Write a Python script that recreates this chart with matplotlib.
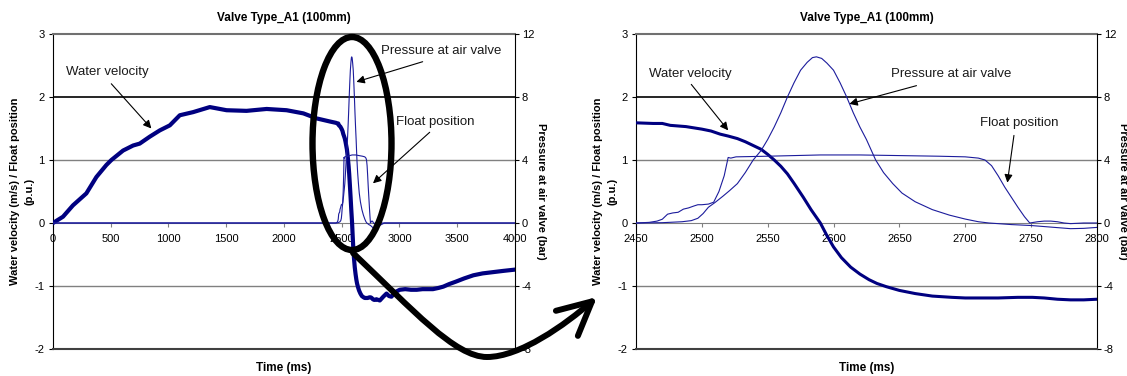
import matplotlib.pyplot as plt
from matplotlib.patches import Ellipse, FancyArrowPatch
from matplotlib.path import Path
from matplotlib.transforms import Affine2D

plt.rcParams['font.family'] = ['Liberation Sans', 'DejaVu Sans']
plt.rcParams['axes.unicode_minus'] = False

title = 'Valve Type_A1 (100mm)'

# water velocity (m/s)
vel_t = [0, 87, 173, 289, 376, 462, 506, 607, 694, 751, 838, 925, 1012, 1098, 1214,
         1358, 1503, 1676, 1850, 2023, 2168, 2283, 2400,
         2450, 2463, 2470, 2476, 2488, 2500, 2507, 2514, 2520, 2527, 2533, 2539, 2545,
         2550, 2555, 2560, 2565, 2570, 2577, 2583, 2590, 2595, 2600, 2606, 2613, 2620,
         2627, 2633, 2640, 2650, 2662, 2675, 2690, 2700, 2715, 2725, 2740, 2751, 2760,
         2770, 2780, 2790, 2800, 2830, 2860, 2888, 2910, 2931, 2960, 3003, 3050, 3100,
         3150, 3200, 3290, 3340, 3380, 3430, 3490, 3560, 3640, 3720, 3810, 3900, 4000]
vel = [0.0, 0.1, 0.28, 0.47, 0.73, 0.92, 1.0, 1.15, 1.23, 1.26, 1.37, 1.47, 1.55, 1.71, 1.76,
       1.84, 1.79, 1.78, 1.81, 1.79, 1.74, 1.66, 1.61,
       1.59, 1.58, 1.58, 1.55, 1.53, 1.49, 1.46, 1.41, 1.38, 1.34, 1.29, 1.23, 1.17,
       1.09, 1.0, 0.9, 0.78, 0.63, 0.41, 0.21, 0.0, -0.2, -0.38, -0.55, -0.70, -0.81,
       -0.9, -0.96, -1.01, -1.07, -1.12, -1.16, -1.18, -1.19, -1.19, -1.19, -1.18, -1.18, -1.19,
       -1.21, -1.22, -1.22, -1.21, -1.23, -1.17, -1.12, -1.16, -1.17, -1.1, -1.06, -1.05, -1.06,
       -1.06, -1.05, -1.05, -1.03, -1.01, -0.97, -0.93, -0.88, -0.83, -0.8, -0.78, -0.76, -0.74]

# float position (p.u.)
float_t = [0, 1000, 2000, 2450, 2460, 2466, 2470, 2474, 2478, 2482, 2486, 2490, 2494, 2497,
           2500, 2505, 2509, 2513, 2517, 2520, 2522, 2526, 2550, 2590, 2620, 2650, 2680,
           2700, 2710, 2715, 2720, 2725, 2730, 2735, 2740, 2745, 2749, 2755, 2760, 2765,
           2770, 2775, 2780, 2790, 2800, 3000, 3500, 4000]
float_pos = [0.0, 0.0, 0.0, 0.0, 0.01, 0.03, 0.06, 0.14, 0.16, 0.17, 0.22, 0.24, 0.27, 0.29,
             0.29, 0.30, 0.33, 0.5, 0.75, 1.04, 1.03, 1.05, 1.06, 1.08, 1.08, 1.07, 1.06,
             1.05, 1.03, 1.0, 0.91, 0.75, 0.57, 0.41, 0.25, 0.1, 0.0, 0.02, 0.03, 0.03,
             0.02, 0.0, -0.01, 0.0, 0.0, 0.0, 0.0, 0.0]

# pressure at air valve (bar)
pres_t = [0, 1000, 2000, 2450, 2470, 2485, 2492, 2497, 2501, 2505, 2510, 2516, 2521, 2527,
          2533, 2539, 2545, 2550, 2555, 2560, 2565, 2570, 2575, 2580, 2584, 2587, 2591,
          2595, 2600, 2605, 2610, 2615, 2620, 2625, 2632, 2638, 2645, 2652, 2662, 2675,
          2688, 2700, 2710, 2718, 2735, 2750, 2765, 2780, 2790, 2800, 2830, 2870, 3500, 4000]
pres = [0.0, 0.0, 0.0, 0.0, 0.02, 0.08, 0.15, 0.3, 0.6, 1.0, 1.3, 1.7, 2.05, 2.5,
        3.2, 4.0, 4.6, 5.3, 6.1, 7.0, 8.0, 8.9, 9.7, 10.2, 10.5, 10.55, 10.45,
        10.15, 9.7, 8.9, 8.0, 7.0, 6.1, 5.3, 4.0, 3.2, 2.5, 1.9, 1.35, 0.85,
        0.5, 0.25, 0.08, 0.0, -0.1, -0.16, -0.26, -0.36, -0.34, -0.28, -0.15, 0.0, 0.0, 0.0]

full_ticks = [0, 500, 1000, 1500, 2000, 2500, 3000, 3500, 4000]
zoom_ticks = [2450, 2500, 2550, 2600, 2650, 2700, 2750, 2800]
left_ticks = [-2, -1, 0, 1, 2, 3]
right_ticks = [-8, -4, 0, 4, 8, 12]

navy = '#000080'
blue = '#1c1c9c'


def note(ax, text, pos, tail, tip):
    ax.text(pos[0], pos[1], text, fontsize=9.5, ha='left', va='center', color='#1a1a1a')
    ax.annotate('', xy=tip, xytext=tail,
                arrowprops=dict(arrowstyle='-|>', color='black', lw=0.8,
                                mutation_scale=12, shrinkA=0, shrinkB=0))


def panel(rect, xlim, xticks, vel_lw, notes):
    ax = fig.add_axes(rect)
    ax.set_xlim(xlim)
    ax.set_ylim(-2, 3)
    ax.set_xticks(xticks)
    ax.set_yticks(left_ticks)

    for y, c, w in [(1, '#808080', 1.0), (-1, '#808080', 1.0), (2, 'black', 1.2)]:
        ax.axhline(y, color=c, lw=w, zorder=0.5)

    ax.plot(vel_t, vel, color=navy, lw=vel_lw, zorder=3)
    ax.plot(float_t, float_pos, color=blue, lw=0.8, zorder=3)

    ax.spines['bottom'].set_position(('data', 0))
    ax.spines['bottom'].set_color('#808080')
    ax.spines['top'].set_color('#707070')
    ax.spines['top'].set_linewidth(1.5)
    ax.spines['right'].set_visible(False)
    ax.spines['left'].set_color('black')

    ax.tick_params(axis='x', direction='out', length=3, pad=5, labelsize=8, color='#808080')
    ax.tick_params(axis='y', direction='out', length=3, pad=3, labelsize=8)

    ax.set_title(title, fontsize=8.5, fontweight='bold', pad=9)
    ax.set_xlabel('Time (ms)', fontsize=8.5, fontweight='bold')
    ax.xaxis.set_label_coords(0.5, -0.04)
    ax.set_ylabel('Water velocity (m/s) / Float position\n(p.u.)', fontsize=8,
                  fontweight='bold', linespacing=1.5, va='center', ha='center')
    ax.yaxis.set_label_coords(-0.067, 0.5)

    ax2 = ax.twinx()
    ax2.set_ylim(-8, 12)
    ax2.set_yticks(right_ticks)
    ax2.plot(pres_t, pres, color=blue, lw=0.8)
    ax2.spines['left'].set_visible(False)
    ax2.spines['top'].set_visible(False)
    ax2.spines['bottom'].set_color('#404040')
    ax2.spines['bottom'].set_linewidth(1.5)
    ax2.spines['right'].set_color('black')
    ax2.tick_params(axis='y', direction='out', length=3, pad=2, labelsize=8)
    ax2.set_ylabel('Pressure at air valve (bar)', fontsize=8, fontweight='bold',
                   rotation=270, va='center', ha='center')
    ax2.yaxis.set_label_coords(1.056, 0.5)

    for n in notes:
        note(ax, *n)
    return ax


fig = plt.figure(figsize=(11.27, 3.76), dpi=100)

panel([0.0470, 0.0718, 0.4099, 0.8378], (0, 4000), full_ticks, 3.0, [
    ('Water velocity', (115, 2.39), (505, 2.21), (852, 1.5)),
    ('Pressure at air valve', (2837, 2.73), (3201, 2.56), (2627, 2.24)),
    ('Float position', (2973, 1.6), (3262, 1.44), (2771, 0.63)),
])
panel([0.5643, 0.0718, 0.4090, 0.8378], (2450, 2800), zoom_ticks, 2.2, [
    ('Water velocity', (2460, 2.37), (2492, 2.2), (2520, 1.47)),
    ('Pressure at air valve', (2644, 2.37), (2663, 2.18), (2612, 1.89)),
    ('Float position', (2711, 1.59), (2737, 1.39), (2732, 0.64)),
])

# hand-drawn zoom marker, in figure pixels from the top-left corner
px = Affine2D().scale(1 / 1127, -1 / 376).translate(0, 1) + fig.transFigure
fig.add_artist(Ellipse((352, 143.5), 79, 213, transform=px, fill=False,
                       edgecolor='black', lw=4.6))
curve = Path([(353, 253), (413, 310), (455, 357), (487, 357),
              (520, 357), (565, 325), (597, 297)],
             [Path.MOVETO, Path.CURVE4, Path.CURVE4, Path.CURVE4,
              Path.CURVE4, Path.CURVE4, Path.CURVE4])
fig.add_artist(FancyArrowPatch(path=curve, transform=px,
                               arrowstyle='->,head_length=0.6,head_width=0.3',
                               mutation_scale=40, color='black', lw=4.3,
                               capstyle='round', joinstyle='round'))

fig.savefig('out.png', dpi=100)
